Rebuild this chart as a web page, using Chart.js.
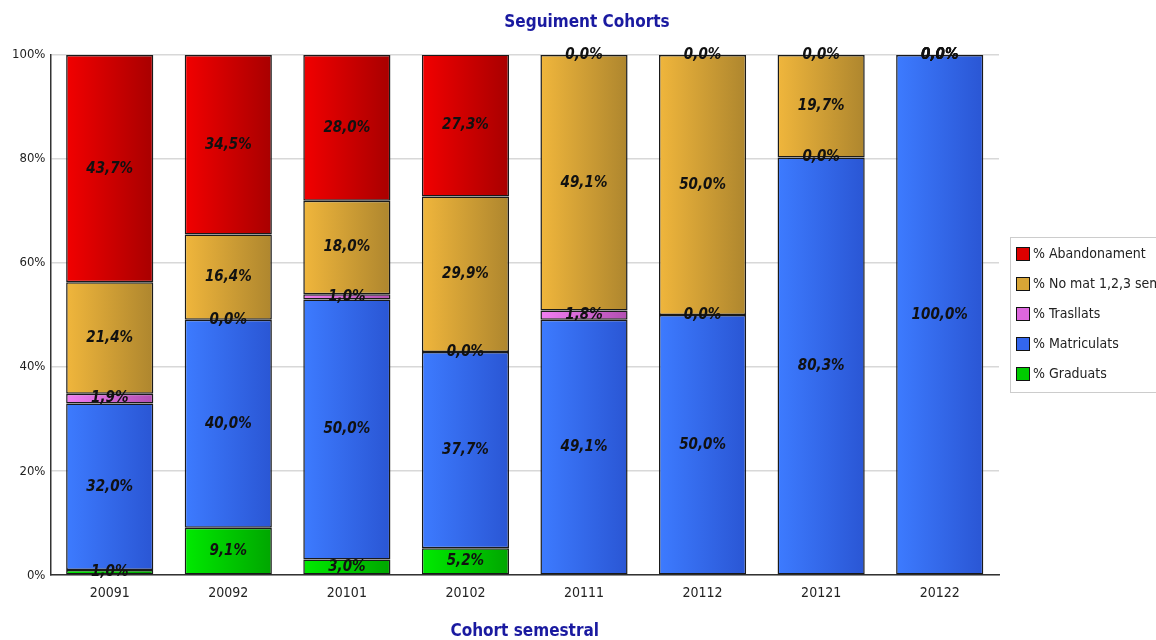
<!DOCTYPE html>
<html>
<head>
<meta charset="utf-8">
<script src="https://cdn.jsdelivr.net/npm/chart.js@4/dist/chart.umd.min.js"></script>
<style>
html,body{margin:0;padding:0;background:#fff;}
#wrap{width:1156px;height:640px;}
</style>
</head>
<body>
<div id="wrap"><canvas id="c" width="1156" height="640"></canvas></div>
<script>
const categories = ['20091','20092','20101','20102','20111','20112','20121','20122'];
const graduats     = [1.0, 9.1, 3.0, 5.2, null, null, null, null];
const matriculats  = [32.0, 40.0, 50.0, 37.7, 49.1, 50.0, 80.3, 100.0];
const trasllats    = [1.9, 0.0, 1.0, 0.0, 1.8, 0.0, 0.0, 0.0];
const noMat        = [21.4, 16.4, 18.0, 29.9, 49.1, 50.0, 19.7, 0.0];
const abandonament = [43.7, 34.5, 28.0, 27.3, 0.0, 0.0, 0.0, 0.0];
const yTicks = [0, 20, 40, 60, 80, 100];
const chartTitle = 'Seguiment Cohorts';

const FONT = '"DejaVu Sans Condensed", "DejaVu Sans", sans-serif';
const BAR_PCT = 0.735;

function grad(c1, c2) {
  return (ctx) => {
    const chart = ctx.chart;
    const area = chart.chartArea;
    if (!area || ctx.dataIndex === undefined) return c1;
    const x = chart.scales.x.getPixelForValue(ctx.dataIndex);
    const w = (area.width / categories.length) * BAR_PCT;
    const g = chart.ctx.createLinearGradient(x - w / 2, 0, x + w / 2, 0);
    g.addColorStop(0, c1);
    g.addColorStop(1, c2);
    return g;
  };
}

const series = [
  { label: '% Graduats', data: graduats, c1: '#00ea00', c2: '#00a600', sw: '#00cc00' },
  { label: '% Matriculats', data: matriculats, c1: '#3d7bff', c2: '#2a56d4', sw: '#3366ee' },
  { label: '% Trasllats', data: trasllats, c1: '#f27ef2', c2: '#b24fb2', sw: '#dd66dd' },
  { label: '% No mat 1,2,3 sem', data: noMat, c1: '#f0b63c', c2: '#ae862e', sw: '#d8a536' },
  { label: '% Abandonament', data: abandonament, c1: '#f20000', c2: '#a80000', sw: '#dd0000' }
];

const labelPlugin = {
  id: 'barLabels',
  afterDatasetsDraw(chart) {
    const c = chart.ctx;
    c.save();
    c.font = 'italic bold 15px ' + FONT;
    c.fillStyle = '#111';
    c.textAlign = 'center';
    c.textBaseline = 'middle';
    chart.data.datasets.forEach((ds, di) => {
      const meta = chart.getDatasetMeta(di);
      meta.data.forEach((el, i) => {
        const v = ds.data[i];
        if (v === null || v === undefined) return;
        const y = (el.y + el.base) / 2;
        c.fillText(v.toFixed(1).replace('.', ',') + '%', el.x, y);
      });
    });
    c.restore();
  }
};

const legendPlugin = {
  id: 'boxLegend',
  afterDraw(chart) {
    const c = chart.ctx;
    c.save();
    // title
    c.font = 'bold 17px ' + FONT;
    c.fillStyle = '#1a1aa0';
    c.textAlign = 'center';
    c.textBaseline = 'middle';
    c.fillText(chartTitle, 587, 23);
    // legend
    c.strokeStyle = '#cccccc';
    c.lineWidth = 1;
    c.strokeRect(1010.5, 237.5, 160, 155);
    c.font = '14px ' + FONT;
    c.textAlign = 'left';
    const items = series.slice().reverse();
    items.forEach((s, k) => {
      const y = 254 + k * 30;
      c.fillStyle = s.sw;
      c.fillRect(1016, y - 7, 14, 14);
      c.strokeStyle = '#111';
      c.lineWidth = 1;
      c.strokeRect(1016.5, y - 6.5, 13, 13);
      c.fillStyle = '#222';
      c.fillText(s.label, 1033, y);
    });
    c.restore();
  }
};

new Chart(document.getElementById('c'), {
  type: 'bar',
  data: {
    labels: categories,
    datasets: series.map(s => ({
      label: s.label,
      data: s.data,
      backgroundColor: grad(s.c1, s.c2),
      borderColor: '#1a1a1a',
      borderWidth: 1.5,
      borderSkipped: false,
      barPercentage: BAR_PCT,
      categoryPercentage: 1.0
    }))
  },
  options: {
    responsive: false,
    animation: false,
    maintainAspectRatio: false,
    layout: { padding: { left: 7, right: 157, top: 55, bottom: 0 } },
    plugins: {
      legend: { display: false },
      tooltip: { enabled: false },
      title: { display: false }
    },
    scales: {
      x: {
        stacked: true,
        grid: { display: false, drawTicks: false },
        border: { color: '#333', width: 1.5 },
        ticks: { color: '#222', font: { family: FONT, size: 14 }, padding: 10 },
        title: {
          display: true,
          text: 'Cohort semestral',
          color: '#1a1aa0',
          font: { family: FONT, size: 17, weight: 'bold', lineHeight: 1 },
          padding: { top: 11, bottom: 0 }
        }
      },
      y: {
        stacked: true,
        min: 0,
        max: 100,
        afterBuildTicks(axis) { axis.ticks = yTicks.map(v => ({ value: v })); },
        grid: { color: '#d8d8d8', lineWidth: 1.5, drawTicks: false },
        border: { color: '#333', width: 1.5 },
        ticks: {
          color: '#222',
          font: { family: FONT, size: 13 },
          padding: 5,
          callback: v => v + '%'
        }
      }
    }
  },
  plugins: [labelPlugin, legendPlugin]
});
</script>
</body>
</html>
